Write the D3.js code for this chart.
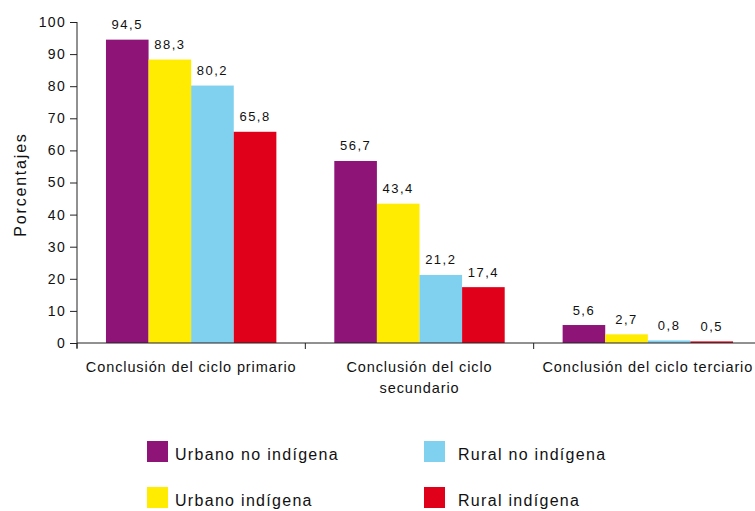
<!DOCTYPE html>
<html>
<head>
<meta charset="utf-8">
<script src="https://cdn.jsdelivr.net/npm/d3@7/dist/d3.min.js"></script>
<style>
  html, body { margin: 0; padding: 0; background: #fff; }
  svg { display: block; font-family: "Liberation Sans", Arial, sans-serif; }
</style>
</head>
<body>
<svg id="chart" width="755" height="511"></svg>
<script>
// Education completion rates by population group (%)
const categories = ["primario", "secundario", "terciario"];
const categoryLabels = [
  ["Conclusión del ciclo primario"],
  ["Conclusión del ciclo", "secundario"],
  ["Conclusión del ciclo terciario"]
];
const seriesNames = ["Urbano no indígena", "Urbano indígena", "Rural no indígena", "Rural indígena"];
const urbanoNoIndigena = [94.5, 56.7, 5.6];
const urbanoIndigena   = [88.3, 43.4, 2.7];
const ruralNoIndigena  = [80.2, 21.2, 0.8];
const ruralIndigena    = [65.8, 17.4, 0.5];
const seriesColors = ["#8f1478", "#ffec00", "#80d0ef", "#e1001a"];
const yTicks = [0, 10, 20, 30, 40, 50, 60, 70, 80, 90, 100];
const yTitle = "Porcentajes";

const seriesValues = [urbanoNoIndigena, urbanoIndigena, ruralNoIndigena, ruralIndigena];

const svg = d3.select("#chart");
const plot = { left: 77, right: 762, top: 22, bottom: 343 };

const x = d3.scaleBand().domain(categories).range([plot.left, plot.right]).padding(0);
const xs = d3.scaleBand().domain(seriesNames).range([0, x.bandwidth()])
  .paddingInner(0).paddingOuter(0.68);
const y = d3.scaleLinear().domain([0, 100]).range([plot.bottom, plot.top]);

const fmt = d3.formatLocale({ decimal: ",", thousands: ".", grouping: [3], currency: ["", ""] }).format(".1f");

// bars
const groups = svg.append("g").selectAll("g")
  .data(categories)
  .join("g")
  .attr("transform", d => `translate(${x(d)},0)`);

groups.selectAll("rect")
  .data((c, ci) => seriesNames.map((s, si) => ({ s, si, v: seriesValues[si][ci] })))
  .join("rect")
  .attr("x", d => xs(d.s))
  .attr("width", xs.bandwidth())
  .attr("y", d => y(d.v))
  .attr("height", d => y(0) - y(d.v))
  .attr("fill", d => seriesColors[d.si]);

groups.selectAll("text")
  .data((c, ci) => seriesNames.map((s, si) => ({ s, si, v: seriesValues[si][ci] })))
  .join("text")
  .attr("x", d => xs(d.s) + xs.bandwidth() / 2)
  .attr("y", d => y(d.v) - 10.5)
  .attr("text-anchor", "middle")
  .attr("font-size", 13)
  .attr("letter-spacing", 1.5)
  .attr("fill", "#111")
  .text(d => fmt(d.v));

// y axis
const yAxis = svg.append("g")
  .attr("transform", `translate(${plot.left},0)`)
  .call(d3.axisLeft(y).tickValues(yTicks).tickSize(7).tickPadding(4).tickFormat(d3.format("d")));
yAxis.select(".domain").attr("stroke", "#222").attr("d", `M0,${plot.top}V${plot.bottom + 5}`);
yAxis.selectAll(".tick line").attr("stroke", "#222");
yAxis.selectAll(".tick text")
  .attr("font-size", 14)
  .attr("letter-spacing", 1.3)
  .attr("fill", "#111")
  .attr("font-family", "Liberation Sans, Arial, sans-serif");

// x axis
const xAxis = svg.append("g")
  .attr("transform", `translate(0,${plot.bottom})`);
xAxis.append("line")
  .attr("x1", plot.left).attr("x2", plot.right)
  .attr("stroke", "#222");
xAxis.selectAll("line.sep")
  .data(categories)
  .join("line")
  .attr("class", "sep")
  .attr("x1", d => x(d)).attr("x2", d => x(d))
  .attr("y1", 0).attr("y2", 6)
  .attr("stroke", "#222");

const catText = xAxis.selectAll("text.cat")
  .data(categories)
  .join("text")
  .attr("class", "cat")
  .attr("text-anchor", "middle")
  .attr("font-size", 14.5)
  .attr("letter-spacing", 0.9)
  .attr("fill", "#111");
catText.selectAll("tspan")
  .data((d, i) => categoryLabels[i].map(line => ({ line, c: d })))
  .join("tspan")
  .attr("x", d => x(d.c) + x.bandwidth() / 2)
  .attr("y", (d, i) => 29 + i * 21)
  .text(d => d.line);

// y title
svg.append("text")
  .attr("transform", `translate(26,${(plot.top + plot.bottom) / 2 + 2}) rotate(-90)`)
  .attr("text-anchor", "middle")
  .attr("font-size", 16)
  .attr("letter-spacing", 1.8)
  .attr("fill", "#111")
  .text(yTitle);

// legend (two columns, two rows)
const legendPos = [
  { x: 147, y: 441 }, { x: 147, y: 487 },
  { x: 424, y: 441 }, { x: 424, y: 487 }
];
const legend = svg.append("g").selectAll("g")
  .data(seriesNames)
  .join("g")
  .attr("transform", (d, i) => `translate(${legendPos[i].x},${legendPos[i].y})`);
legend.append("rect")
  .attr("width", 21).attr("height", 21)
  .attr("fill", (d, i) => seriesColors[i]);
legend.append("text")
  .attr("x", (d, i) => i < 2 ? 28 : 34)
  .attr("y", 19)
  .attr("font-size", 16)
  .attr("letter-spacing", 1.3)
  .attr("fill", "#111")
  .text(d => d);
</script>
</body>
</html>
